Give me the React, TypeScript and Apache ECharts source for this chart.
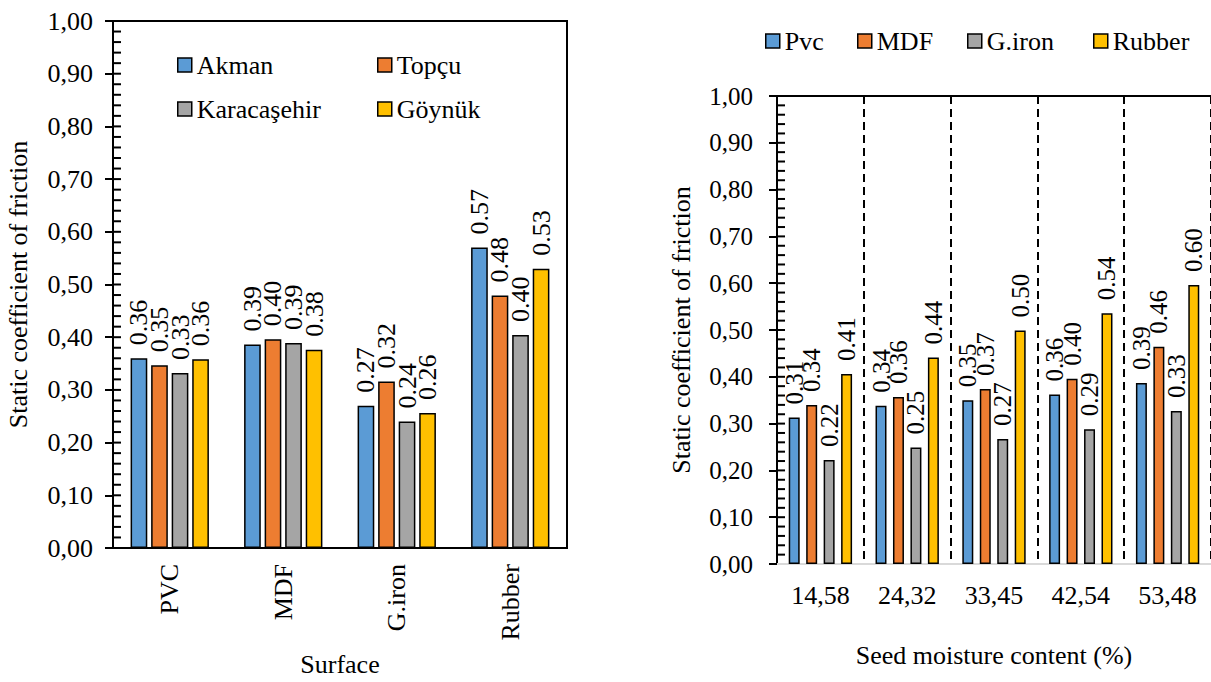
import React, { useEffect, useRef } from 'react';
import * as echarts from 'echarts';

// ---- Left chart data ----
const surfaceCategories = ['PVC', 'MDF', 'G.iron', 'Rubber'];
const varietyNames = ['Akman', 'Topçu', 'Karacaşehir', 'Göynük'];
const akmanValues = [0.36, 0.386, 0.27, 0.57];
const topcuValues = [0.347, 0.396, 0.316, 0.479];
const karacasehirValues = [0.332, 0.389, 0.24, 0.404];
const goynukValues = [0.358, 0.376, 0.256, 0.53];

// ---- Right chart data ----
const moistureCategories = ['14,58', '24,32', '33,45', '42,54', '53,48'];
const surfaceNames = ['Pvc', 'MDF', 'G.iron', 'Rubber'];
const pvcValues = [0.313, 0.338, 0.35, 0.362, 0.387];
const mdfValues = [0.34, 0.357, 0.374, 0.396, 0.464];
const giValues = [0.222, 0.249, 0.267, 0.288, 0.327];
const rubberValues = [0.406, 0.441, 0.499, 0.536, 0.596];

const colors = ['#5B9BD5', '#ED7D31', '#A5A5A5', '#FFC000'];
const FONT = 'Liberation Serif';
const yAxisTitle = 'Static coefficient of friction';

const tickFmt = (v: number) => v.toFixed(2).replace('.', ',');

const LEFT_GRID = { left: 113, top: 21, width: 454, height: 532 };
const RIGHT_GRID = { left: 777, top: 96, width: 436, height: 468 };
const MINOR_STEP = 0.02;

export default function App() {
  const ref = useRef<HTMLDivElement>(null);
  useEffect(() => {
    document.body.style.margin = '0';
    const chart = echarts.init(ref.current!, null, { renderer: 'svg' });
    const txt = (size: number) => ({ fontFamily: FONT, fontSize: size, color: '#000' });

    const leftData = [akmanValues, topcuValues, karacasehirValues, goynukValues];
    const rightData = [pvcValues, mdfValues, giValues, rubberValues];

    const barLabel = (size: number) => ({
      show: true,
      position: 'top',
      rotate: 90,
      align: 'left',
      verticalAlign: 'middle',
      distance: 13,
      formatter: (p: any) => Number(p.value).toFixed(2),
      ...txt(size),
    });

    const leftSeries = varietyNames.map((name, i) => ({
      name,
      type: 'bar',
      xAxisIndex: 0,
      yAxisIndex: 0,
      data: leftData[i],
      barGap: '23%',
      barCategoryGap: '31%',
      itemStyle: { color: colors[i], borderColor: '#000', borderWidth: 1.5 },
      label: barLabel(26),
    }));
    const rightSeries = surfaceNames.map((name, i) => ({
      name,
      type: 'bar',
      xAxisIndex: 1,
      yAxisIndex: 1,
      data: rightData[i],
      barGap: '59%',
      barCategoryGap: '27%',
      itemStyle: { color: colors[i], borderColor: '#000', borderWidth: 1.5 },
      label: barLabel(25),
    }));

    const legendBase = {
      icon: 'rect',
      itemWidth: 14,
      itemHeight: 14,
      padding: 0,
      itemGap: 0,
      textStyle: txt(26),
      itemStyle: { borderColor: '#000', borderWidth: 1.5 },
    };
    const legendPos: [string, number, number][] = [
      ['Akman', 177, 52],
      ['Topçu', 377, 52],
      ['Karacaşehir', 177, 96],
      ['Göynük', 377, 96],
      ['Pvc', 765, 28],
      ['MDF', 857, 28],
      ['G.iron', 967, 28],
      ['Rubber', 1093, 28],
    ];

    const yMajor = (gridIndex: number, labelSize: number, margin: number, nameGap: number) => ({
      gridIndex,
      type: 'value',
      position: 'left',
      min: 0,
      max: 1,
      interval: 0.1,
      axisLine: { show: true, onZero: false, lineStyle: { color: '#000', width: 2 } },
      axisTick: { show: true, length: 8, lineStyle: { color: '#000', width: 2 } },
      axisLabel: { formatter: tickFmt, margin, ...txt(labelSize) },
      splitLine: { show: false },
      name: yAxisTitle,
      nameLocation: 'middle',
      nameGap,
      nameTextStyle: txt(26),
    });

    chart.setOption({
      animation: false,
      backgroundColor: '#fff',
      grid: [
        { ...LEFT_GRID, show: true, borderColor: '#000', borderWidth: 2, backgroundColor: 'transparent' },
        { ...RIGHT_GRID },
      ],
      legend: legendPos.map(([n, l, t]) => ({ ...legendBase, data: [n], left: l, top: t })),
      xAxis: [
        {
          gridIndex: 0,
          type: 'category',
          data: surfaceCategories,
          axisLine: { onZero: false, lineStyle: { color: '#000', width: 2 } },
          axisTick: { length: 7, lineStyle: { color: '#000', width: 2 } },
          axisLabel: { rotate: 90, margin: 16, ...txt(26) },
          name: 'Surface',
          nameLocation: 'middle',
          nameGap: 103,
          nameTextStyle: txt(26),
        },
        {
          gridIndex: 1,
          type: 'category',
          data: moistureCategories,
          axisLine: { onZero: false, lineStyle: { color: '#d9d9d9', width: 2 } },
          axisTick: { length: 7, lineStyle: { color: '#d9d9d9', width: 2 } },
          axisLabel: { margin: 18, ...txt(26) },
          splitLine: { show: true, lineStyle: { color: '#000', type: [8, 5], width: 2 } },
          name: 'Seed moisture content (%)',
          nameLocation: 'middle',
          nameGap: 78,
          nameTextStyle: txt(26),
        },
        {
          gridIndex: 1,
          type: 'category',
          position: 'top',
          data: moistureCategories,
          axisLine: { show: true, onZero: false, lineStyle: { color: '#000', width: 2 } },
          axisTick: { show: false },
          axisLabel: { show: false },
          splitLine: { show: false },
        },
      ],
      yAxis: [yMajor(0, 26, 20, 82), yMajor(1, 25, 24, 83)],
      series: [...leftSeries, ...rightSeries],
    });

    // inward minor ticks, placed through the library's y scales (grid geometry as fallback)
    const toY = (yAxisIndex: number, v: number, g: typeof LEFT_GRID) => {
      let r: any = null;
      try {
        r = chart.convertToPixel({ yAxisIndex } as any, v as any);
      } catch (e) {
        r = null;
      }
      if (Array.isArray(r)) r = r[1];
      if (typeof r === 'number' && isFinite(r)) return r;
      return g.top + g.height * (1 - v);
    };
    const minorTicks: any[] = [];
    const addTicks = (yAxisIndex: number, g: typeof LEFT_GRID) => {
      for (let k = 1; k * MINOR_STEP < 1 - 1e-9; k++) {
        const v = k * MINOR_STEP;
        const y = toY(yAxisIndex, v, g);
        minorTicks.push({
          type: 'line',
          silent: true,
          z: 100,
          shape: { x1: g.left, y1: y, x2: g.left + 8, y2: y },
          style: { stroke: '#000', lineWidth: 2 },
        });
      }
    };
    addTicks(0, LEFT_GRID);
    addTicks(1, RIGHT_GRID);
    chart.setOption({ graphic: { elements: minorTicks } });

    return () => chart.dispose();
  }, []);
  return <div ref={ref} style={{ width: 1211, height: 682 }} />;
}
